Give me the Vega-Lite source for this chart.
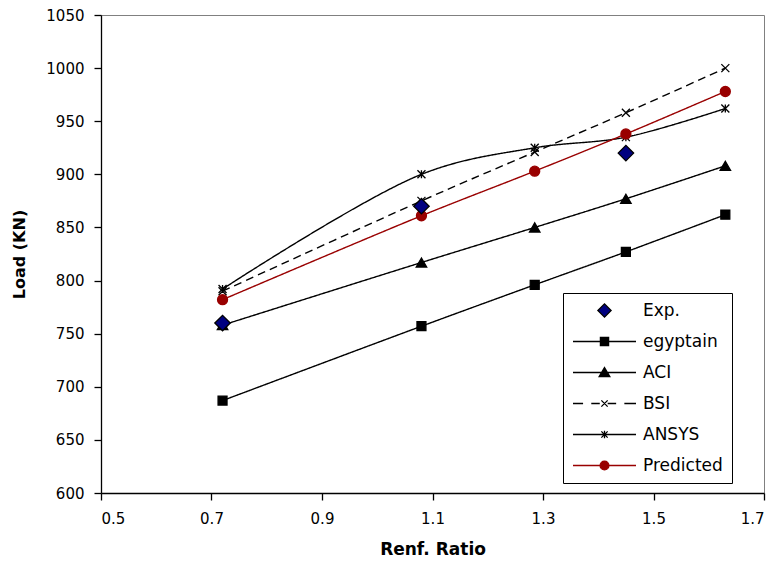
{
  "$schema": "https://vega.github.io/schema/vega-lite/v6.json",
  "autosize": {"type": "none"},
  "padding": {"left": 101, "top": 15, "right": 14, "bottom": 73},
  "width": 663,
  "height": 478,
  "background": "white",
  "config": {
    "view": {"stroke": "#808080", "strokeWidth": 1},
    "font": "DejaVu Sans",
    "axis": {
      "grid": false,
      "domainColor": "black",
      "domainWidth": 1.3,
      "tickColor": "black",
      "tickWidth": 1.3,
      "tickSize": 7,
      "labelColor": "black",
      "labelFont": "DejaVu Sans",
      "labelFontSize": 15,
      "titleColor": "black",
      "titleFont": "DejaVu Sans",
      "titleFontWeight": "bold"
    }
  },
  "data": {
    "values": [
      {"x": 0.72, "y": 687, "series": "egyptain"},
      {"x": 1.08, "y": 757, "series": "egyptain"},
      {"x": 1.285, "y": 796, "series": "egyptain"},
      {"x": 1.45, "y": 827, "series": "egyptain"},
      {"x": 1.63, "y": 862, "series": "egyptain"},
      {"x": 0.72, "y": 758, "series": "ACI"},
      {"x": 1.08, "y": 817, "series": "ACI"},
      {"x": 1.285, "y": 850, "series": "ACI"},
      {"x": 1.45, "y": 877, "series": "ACI"},
      {"x": 1.63, "y": 908, "series": "ACI"},
      {"x": 0.72, "y": 790, "series": "BSI"},
      {"x": 1.08, "y": 875, "series": "BSI"},
      {"x": 1.285, "y": 921, "series": "BSI"},
      {"x": 1.45, "y": 958, "series": "BSI"},
      {"x": 1.63, "y": 1000, "series": "BSI"},
      {"x": 0.72, "y": 792, "series": "ANSYS"},
      {"x": 1.08, "y": 900, "series": "ANSYS"},
      {"x": 1.285, "y": 925, "series": "ANSYS"},
      {"x": 1.45, "y": 935, "series": "ANSYS"},
      {"x": 1.63, "y": 962, "series": "ANSYS"},
      {"x": 0.72, "y": 782, "series": "Predicted"},
      {"x": 1.08, "y": 861, "series": "Predicted"},
      {"x": 1.285, "y": 903, "series": "Predicted"},
      {"x": 1.45, "y": 938, "series": "Predicted"},
      {"x": 1.63, "y": 978, "series": "Predicted"},
      {"x": 0.72, "y": 760, "series": "Exp."},
      {"x": 1.08, "y": 870, "series": "Exp."},
      {"x": 1.45, "y": 920, "series": "Exp."}
    ]
  },
  "encoding": {
    "x": {
      "field": "x", "type": "quantitative",
      "scale": {"domain": [0.5, 1.7], "nice": false, "zero": false},
      "axis": {
        "title": "Renf. Ratio",
        "values": [0.5, 0.7, 0.9, 1.1, 1.3, 1.5, 1.7],
        "format": ".1f",
        "labelPadding": 11,
        "titleFontSize": 17,
        "titlePadding": 15
      }
    },
    "y": {
      "field": "y", "type": "quantitative",
      "scale": {"domain": [600, 1050], "nice": false, "zero": false},
      "axis": {
        "title": "Load (KN)",
        "values": [600, 650, 700, 750, 800, 850, 900, 950, 1000, 1050],
        "format": "d",
        "labelPadding": 10,
        "titleFontSize": 16,
        "titlePadding": 18
      }
    }
  },
  "layer": [
    {
      "transform": [{"filter": "datum.series !== 'Exp.'"}],
      "mark": {"type": "line", "interpolate": "catmull-rom", "strokeWidth": 1.4},
      "encoding": {
        "detail": {"field": "series"},
        "stroke": {
          "field": "series", "type": "nominal", "legend": null,
          "scale": {
            "domain": ["egyptain", "ACI", "BSI", "ANSYS", "Predicted", "Exp."],
            "range": ["black", "black", "black", "black", "#990000", "black"]
          }
        },
        "strokeDash": {
          "field": "series", "type": "nominal", "legend": null,
          "scale": {
            "domain": ["egyptain", "ACI", "BSI", "ANSYS", "Predicted", "Exp."],
            "range": [[1, 0], [1, 0], [8, 5], [1, 0], [1, 0], [1, 0]]
          }
        }
      }
    },
    {
      "mark": {"type": "point", "filled": false, "opacity": 1, "strokeWidth": 1.3},
      "encoding": {
        "shape": {
          "field": "series", "type": "nominal", "legend": null,
          "scale": {
            "domain": ["ANSYS", "Exp.", "egyptain", "ACI", "BSI", "Predicted"],
            "range": ["M-1,-1L1,1M-1,1L1,-1M0,-1L0,1", "diamond", "square", "triangle-up", "M-1,-1L1,1M-1,1L1,-1", "circle"]
          }
        },
        "fill": {
          "field": "series", "type": "nominal",
          "scale": {
            "domain": ["Exp.", "egyptain", "ACI", "BSI", "ANSYS", "Predicted"],
            "range": ["#000080", "black", "black", "transparent", "transparent", "#990000"]
          },
          "legend": {
            "title": null,
            "orient": "none",
            "legendX": 462,
            "legendY": 278,
            "direction": "vertical",
            "fillColor": "white",
            "strokeColor": "black",
            "padding": 9,
            "labelFont": "DejaVu Sans",
            "labelFontSize": 17,
            "labelColor": "black",
            "labelOffset": 6,
            "symbolSize": 3969,
            "clipHeight": 17,
            "rowPadding": 13,
            "symbolStrokeWidth": 1.3,
            "symbolOpacity": 1,
            "encoding": {
              "symbols": {
                "shape": {"value": {"expr": "datum.value === 'Exp.' ? 'M-0.21,0L0,-0.21L0.21,0L0,0.21Z' : datum.value === 'egyptain' ? 'M-1,0H1M-0.13,-0.13H0.13V0.13H-0.13Z' : datum.value === 'ACI' ? 'M-1,0H1M0,-0.16L0.17,0.13H-0.17Z' : datum.value === 'BSI' ? 'M-1,0H-0.68M-0.42,0H-0.15M0.1,0H0.37M0.63,0H1M-0.1,-0.1L0.1,0.1M-0.1,0.1L0.1,-0.1' : datum.value === 'ANSYS' ? 'M-1,0H1M-0.1,-0.1L0.1,0.1M-0.1,0.1L0.1,-0.1M0,-0.12L0,0.12' : 'M-1,0H1M-0.14,0A0.14,0.14 0 1,0 0.14,0A0.14,0.14 0 1,0 -0.14,0Z'"}},
                "fill": {"value": {"expr": "datum.value === 'Exp.' ? '#000080' : datum.value === 'Predicted' ? '#990000' : 'black'"}},
                "stroke": {"value": {"expr": "datum.value === 'Predicted' ? '#990000' : 'black'"}},
                "strokeWidth": {"value": 1.3}
              }
            }
          }
        },
        "stroke": {
          "field": "series", "type": "nominal", "legend": null,
          "scale": {
            "domain": ["egyptain", "ACI", "BSI", "ANSYS", "Predicted", "Exp."],
            "range": ["black", "black", "black", "black", "#990000", "black"]
          }
        },
        "size": {
          "field": "series", "type": "nominal", "legend": null,
          "scale": {
            "type": "ordinal",
            "domain": ["egyptain", "ACI", "BSI", "ANSYS", "Predicted", "Exp."],
            "range": [80, 110, 64, 64, 100, 240]
          }
        }
      }
    }
  ]
}
